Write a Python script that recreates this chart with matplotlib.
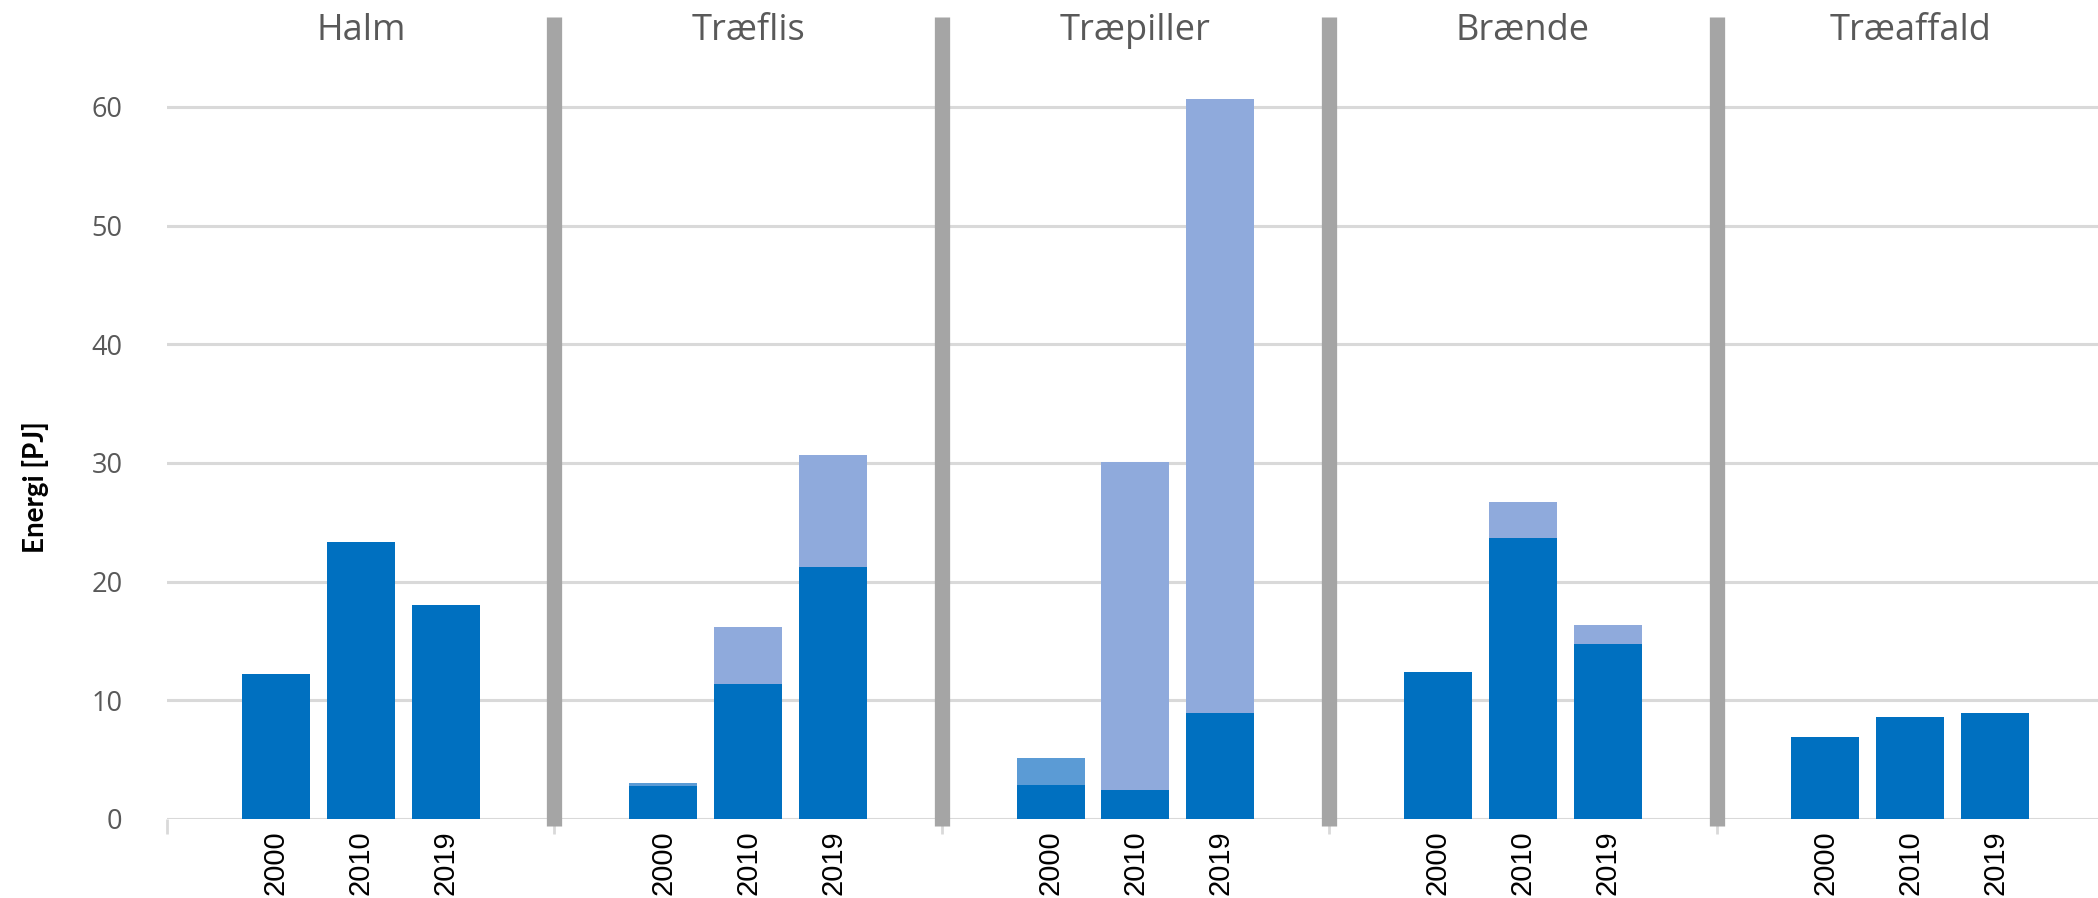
import numpy as np
import matplotlib
matplotlib.use("Agg")
import matplotlib.pyplot as plt

# Biomass energy use by fuel type, stacked per year
categories = ["Halm", "Træflis", "Træpiller", "Brænde", "Træaffald"]
years = ["2000", "2010", "2019"]
# one value per (category, year), category-major order
base = [12.2, 23.3, 18.0,
        2.75, 11.35, 21.25,
        2.9, 2.45, 8.95,
        12.35, 23.7, 14.75,
        6.9, 8.55, 8.95]
mid = [0, 0, 0,
       0.25, 0, 0,
       2.2, 0, 0,
       0, 0, 0,
       0, 0, 0]
top = [0, 0, 0,
       0, 4.85, 9.45,
       0, 27.65, 51.75,
       0, 3.0, 1.6,
       0, 0, 0]

C_DARK, C_MID, C_LIGHT = "#0070C0", "#5B9BD5", "#8FAADC"
GREY_TXT, GRID, SEP = "#595959", "#D9D9D9", "#A5A5A5"

GW = 4.56      # width of one category block (in bar-spacing units)
OFF = 1.28     # offset of first bar inside a block
BW = 0.8

ncat, nyr = len(categories), len(years)
x = np.array([k * GW + OFF + j for k in range(ncat) for j in range(nyr)])
base, mid, top = map(np.array, (base, mid, top))

fig = plt.figure(figsize=(20.98, 8.98), dpi=100)
ax = fig.add_axes([0.0796, 0.088, 0.9204, 0.8988])

ax.bar(x, base, width=BW, color=C_DARK, zorder=3)
ax.bar(x, mid, width=BW, bottom=base, color=C_MID, zorder=3)
ax.bar(x, top, width=BW, bottom=base + mid, color=C_LIGHT, zorder=3)

ax.set_xlim(0, ncat * GW - 0.07)
ax.set_ylim(0, 68)
ax.set_yticks(range(0, 61, 10))
ax.yaxis.grid(True, color=GRID, lw=2.2, zorder=0)
for s in ax.spines.values():
    s.set_visible(False)

ax.tick_params(axis="y", length=0, pad=32, labelsize=19.5, labelcolor=GREY_TXT)
for lab in ax.get_yticklabels():
    lab.set_fontfamily("Open Sans")

ax.set_xticks(x)
ax.set_xticklabels(years * ncat, rotation=90, fontsize=21, family="Liberation Sans")
ax.tick_params(axis="x", which="major", length=0, pad=8)

# small category-axis ticks: left edge, middle year, block separators
minor = [0.0] + [k * GW + OFF + 1 for k in range(ncat)] + [k * GW for k in range(1, ncat)]
ax.set_xticks(minor, minor=True)
ax.tick_params(axis="x", which="minor", length=11, width=2, color=GRID)

# thick grey separators between fuel types
for k in range(1, ncat):
    ax.plot([k * GW, k * GW], [-0.6, 67.6], color=SEP, lw=11, solid_capstyle="butt",
            clip_on=False, zorder=4)

for k, name in enumerate(categories):
    ax.text(k * GW + GW / 2, 66.4, name, ha="center", va="center", fontsize=26,
            color=GREY_TXT, family="Open Sans")

fig.text(0.0167, 0.458, "Energi [PJ]", rotation=90, ha="center", va="center",
         fontsize=20, fontweight="bold", family="Lato")

fig.savefig("out.png", dpi=100)
